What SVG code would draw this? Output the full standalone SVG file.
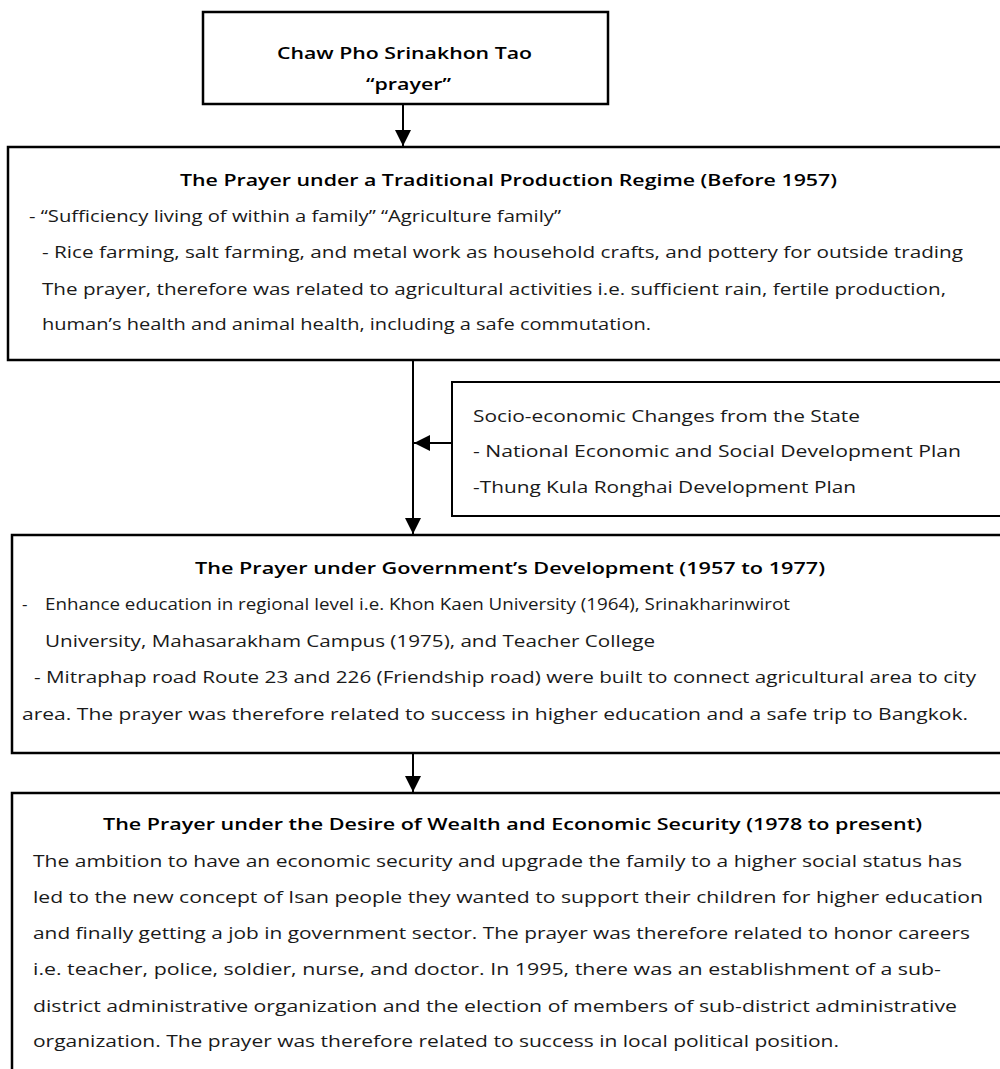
<svg xmlns="http://www.w3.org/2000/svg" width="1000" height="1069" viewBox="0 0 1000 1069">
<defs>
<style>
.box{fill:#fff;stroke:#000;stroke-width:2.5}
.side{fill:#fff;stroke:#000;stroke-width:2}
.t{font-family:"Open Sans","Noto Sans","Liberation Sans",sans-serif;font-size:17px;fill:#1a1a1a}
.b{font-weight:600;fill:#000}
.c{stroke:#000;stroke-width:2;fill:none}
</style>
<marker id="ah" viewBox="0 0 16 16" refX="16" refY="8" markerWidth="16" markerHeight="16" markerUnits="userSpaceOnUse" orient="auto">
<path d="M0,0 L16,8 L0,16 Z" fill="#000"/>
</marker>
</defs>
<rect width="1000" height="1069" fill="#fff"/>

<g id="connectors">
<line class="c" x1="403" y1="104" x2="403" y2="146" marker-end="url(#ah)"/>
<line class="c" x1="413" y1="361" x2="413" y2="534" marker-end="url(#ah)"/>
<line class="c" x1="452" y1="443" x2="414" y2="443" marker-end="url(#ah)"/>
<line class="c" x1="413" y1="754" x2="413" y2="792" marker-end="url(#ah)"/>
</g>

<g id="node-deity">
<rect class="box" x="203" y="12" width="405" height="92"/>
<text class="t b" x="277" y="59" textLength="255" lengthAdjust="spacingAndGlyphs">Chaw Pho Srinakhon Tao</text>
<text class="t b" x="366" y="90" textLength="85" lengthAdjust="spacingAndGlyphs">“prayer”</text>
</g>

<g id="node-traditional">
<rect class="box" x="8" y="147" width="1004" height="213"/>
<text class="t b" x="180" y="186" textLength="657" lengthAdjust="spacingAndGlyphs">The Prayer under a Traditional Production Regime (Before 1957)</text>
<text class="t" x="29" y="222" textLength="532" lengthAdjust="spacingAndGlyphs">- “Sufficiency living of within a family” “Agriculture family”</text>
<text class="t" x="42" y="258" textLength="921" lengthAdjust="spacingAndGlyphs">- Rice farming, salt farming, and metal work as household crafts, and pottery for outside trading</text>
<text class="t" x="42" y="295" textLength="904" lengthAdjust="spacingAndGlyphs">The prayer, therefore was related to agricultural activities i.e. sufficient rain, fertile production,</text>
<text class="t" x="42" y="330" textLength="609" lengthAdjust="spacingAndGlyphs">human’s health and animal health, including a safe commutation.</text>
</g>

<g id="node-state">
<rect class="side" x="452" y="382" width="560" height="134"/>
<text class="t" x="473" y="422" textLength="387" lengthAdjust="spacingAndGlyphs">Socio-economic Changes from the State</text>
<text class="t" x="473" y="457" textLength="488" lengthAdjust="spacingAndGlyphs">- National Economic and Social Development Plan</text>
<text class="t" x="473" y="493" textLength="383" lengthAdjust="spacingAndGlyphs">-Thung Kula Ronghai Development Plan</text>
</g>

<g id="node-government">
<rect class="box" x="12" y="535" width="1000" height="218"/>
<text class="t b" x="195" y="574" textLength="630" lengthAdjust="spacingAndGlyphs">The Prayer under Government’s Development (1957 to 1977)</text>
<text class="t" x="22" y="610">-</text>
<text class="t" x="45" y="610" textLength="745" lengthAdjust="spacingAndGlyphs">Enhance education in regional level i.e. Khon Kaen University (1964), Srinakharinwirot</text>
<text class="t" x="45" y="647" textLength="610" lengthAdjust="spacingAndGlyphs">University, Mahasarakham Campus (1975), and Teacher College</text>
<text class="t" x="34" y="683" textLength="942" lengthAdjust="spacingAndGlyphs">- Mitraphap road Route 23 and 226 (Friendship road) were built to connect agricultural area to city</text>
<text class="t" x="22" y="720" textLength="946" lengthAdjust="spacingAndGlyphs">area. The prayer was therefore related to success in higher education and a safe trip to Bangkok.</text>
</g>

<g id="node-wealth">
<rect class="box" x="12" y="793" width="1000" height="290"/>
<text class="t b" x="103" y="830" textLength="819" lengthAdjust="spacingAndGlyphs">The Prayer under the Desire of Wealth and Economic Security (1978 to present)</text>
<text class="t" x="33" y="867" textLength="929" lengthAdjust="spacingAndGlyphs">The ambition to have an economic security and upgrade the family to a higher social status has</text>
<text class="t" x="33" y="903" textLength="950" lengthAdjust="spacingAndGlyphs">led to the new concept of Isan people they wanted to support their children for higher education</text>
<text class="t" x="33" y="939" textLength="937" lengthAdjust="spacingAndGlyphs">and finally getting a job in government sector. The prayer was therefore related to honor careers</text>
<text class="t" x="33" y="975" textLength="908" lengthAdjust="spacingAndGlyphs">i.e. teacher, police, soldier, nurse, and doctor. In 1995, there was an establishment of a sub-</text>
<text class="t" x="33" y="1012" textLength="924" lengthAdjust="spacingAndGlyphs">district administrative organization and the election of members of sub-district administrative</text>
<text class="t" x="33" y="1047" textLength="806" lengthAdjust="spacingAndGlyphs">organization. The prayer was therefore related to success in local political position.</text>
</g>
</svg>
